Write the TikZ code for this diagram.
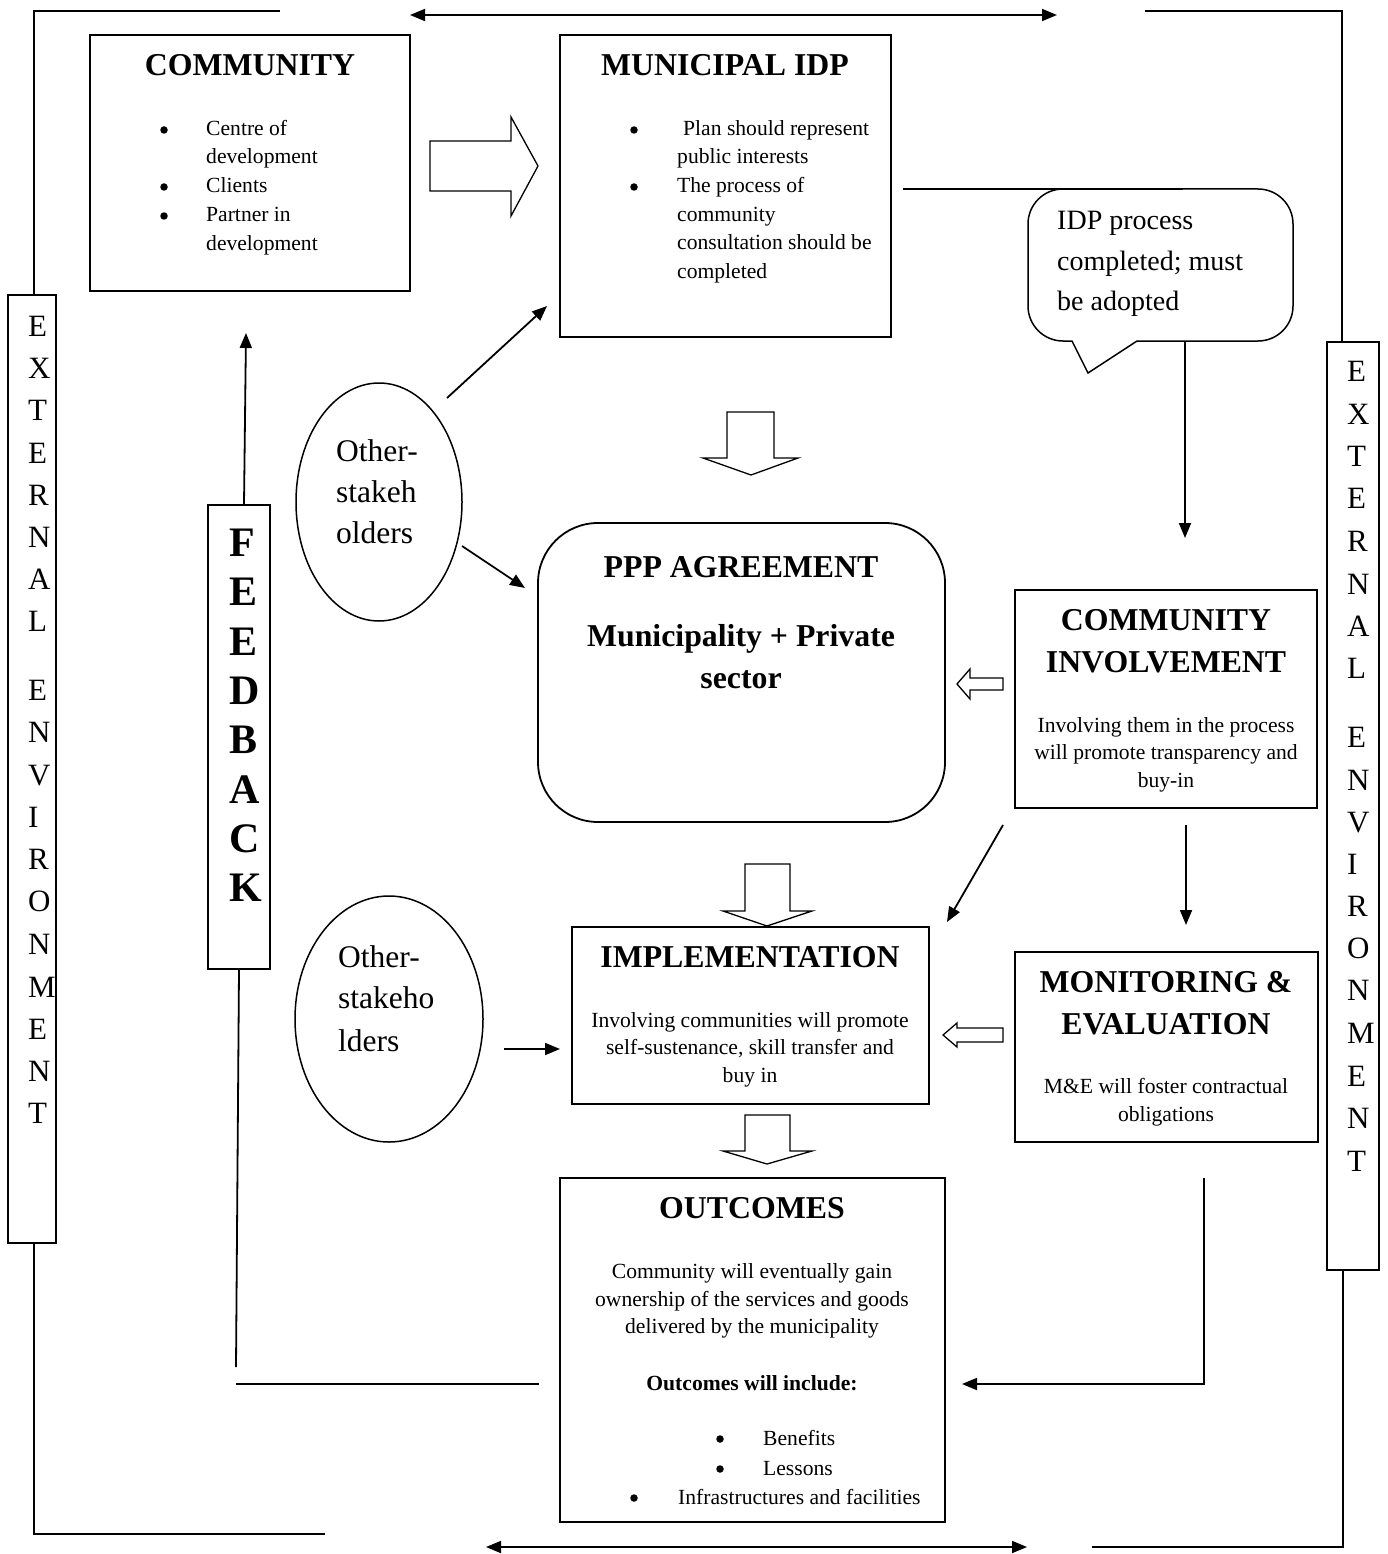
\documentclass[tikz,border=0pt]{standalone}
\usepackage{fontspec}
\setmainfont{Liberation Serif}
\usetikzlibrary{arrows.meta,shapes.geometric,calc}
\tikzset{
 box/.style={draw, line width=1.8pt, inner sep=0pt},
 hdr/.style={font=\bfseries\fontsize{31.8}{40}\selectfont, anchor=base, inner sep=0pt},
 txt/.style={font=\fontsize{21.6}{28}\selectfont, anchor=base, inner sep=0pt},
 txtl/.style={txt, anchor=base west},
 btxt/.style={font=\bfseries\fontsize{21.6}{28}\selectfont, anchor=base, inner sep=0pt},
 bigl/.style={font=\fontsize{28}{40}\selectfont, anchor=base west, inner sep=0pt},
 oth/.style={font=\fontsize{31.5}{42}\selectfont, anchor=base west, inner sep=0pt},
 extl/.style={font=\fontsize{31}{42}\selectfont, anchor=base west, inner sep=0pt},
 fbl/.style={font=\bfseries\fontsize{42}{49}\selectfont, anchor=base west, inner sep=0pt},
 bdot/.style={circle, fill, inner sep=0pt, minimum size=7.5pt},
 conn/.style={line width=1.8pt},
 arr/.style={conn, -{Triangle[length=15pt,width=12pt]}},
 darr/.style={conn, {Triangle[length=15pt,width=12pt]}-{Triangle[length=15pt,width=12pt]}},
 blk/.style={draw, line width=1.3pt, fill=white, line join=miter},
 oval/.style={draw, ellipse, line width=1.5pt, inner sep=0pt},
}
\begin{document}
\begin{tikzpicture}[x=1pt,y=-1pt]
\useasboundingbox (0,0) rectangle (1387,1554);

% ---------- boxes ----------
\node[box, minimum width=320pt, minimum height=256pt] (comm) at (250,163) {};
\node[box, minimum width=331pt, minimum height=302pt] (idp) at (725.5,186) {};
\node[box, rounded corners=60pt, minimum width=407pt, minimum height=299pt] (ppp) at (741.5,672.5) {};
\node[box, minimum width=302pt, minimum height=218pt] (ci) at (1166,699) {};
\node[box, minimum width=357pt, minimum height=177pt] (impl) at (750.5,1015.5) {};
\node[box, minimum width=303pt, minimum height=190pt] (me) at (1166.5,1047) {};
\node[box, minimum width=385pt, minimum height=344pt] (out) at (752.5,1350) {};
\node[box, line width=1.5pt, minimum width=62pt, minimum height=464pt] (fb) at (239,737) {};
\node[box, line width=1.5pt, minimum width=48pt, minimum height=948pt] (extL) at (32,769) {};
\node[box, line width=1.5pt, minimum width=52pt, minimum height=928pt] (extR) at (1353,806) {};
\node[oval, minimum width=166pt, minimum height=238pt] (oth1) at (379,502) {};
\node[oval, minimum width=188pt, minimum height=246pt] (oth2) at (389,1019) {};

% callout
\draw[line width=1.5pt] (1088,373) -- (1072,341) [rounded corners=35pt] -- (1028,341) -- (1028,189) -- (1293,189) -- (1293,341) [sharp corners] -- (1137,341) -- cycle;
\node[bigl] (cal1) at (1057,230) {IDP process};
\node[bigl] (cal2) at (1057,270) {completed; must};
\node[bigl] (cal3) at (1057,310) {be adopted};

% ---------- texts ----------
\node[hdr] (commT) at (250,76) {COMMUNITY};
\node[bdot] (cb1) at (164,130) {};
\node[bdot] (cb2) at (164,187) {};
\node[bdot] (cb3) at (164,216) {};
\node[txtl] (ct1) at (206,136) {Centre of};
\node[txtl] (ct2) at (206,164) {development};
\node[txtl] (ct3) at (206,193) {Clients};
\node[txtl] (ct4) at (206,222) {Partner in};
\node[txtl] (ct5) at (206,251) {development};

\node[hdr] (idpT) at (725,76) {MUNICIPAL IDP};
\node[bdot] (ib1) at (634,130) {};
\node[bdot] (ib2) at (634,187) {};
\node[txtl] (it1) at (683,136) {Plan should represent};
\node[txtl] (it2) at (677,164) {public interests};
\node[txtl] (it3) at (677,193) {The process of};
\node[txtl] (it4) at (677,222) {community};
\node[txtl] (it5) at (677,250) {consultation should be};
\node[txtl] (it6) at (677,278) {completed};

\node[hdr] (pppT1) at (741,577) {PPP AGREEMENT};
\node[hdr] (pppT2) at (741,646) {Municipality + Private};
\node[hdr] (pppT3) at (741,688) {sector};

\node[hdr] (ciT1) at (1166,630) {COMMUNITY};
\node[hdr] (ciT2) at (1166,672) {INVOLVEMENT};
\node[txt] (ci1) at (1166,732) {Involving them in the process};
\node[txt] (ci2) at (1166,759) {will promote transparency and};
\node[txt] (ci3) at (1166,787) {buy-in};

\node[hdr] (implT) at (750,967) {IMPLEMENTATION};
\node[txt] (im1) at (750,1027) {Involving communities will promote};
\node[txt] (im2) at (750,1054) {self-sustenance, skill transfer and};
\node[txt] (im3) at (750,1082) {buy in};

\node[hdr] (meT1) at (1166,992) {MONITORING \&};
\node[hdr] (meT2) at (1166,1034) {EVALUATION};
\node[txt] (me1) at (1166,1093) {M\&E will foster contractual};
\node[txt] (me2) at (1166,1121) {obligations};

\node[hdr] (outT) at (752,1218) {OUTCOMES};
\node[txt] (o1) at (752,1278) {Community will eventually gain};
\node[txt] (o2) at (752,1306) {ownership of the services and goods};
\node[txt] (o3) at (752,1333) {delivered by the municipality};
\node[btxt] (o4) at (752,1390) {Outcomes will include:};
\node[bdot] (ob1) at (720,1439) {};
\node[bdot] (ob2) at (720,1469) {};
\node[bdot] (ob3) at (634,1498) {};
\node[txtl] (ot1) at (763,1445) {Benefits};
\node[txtl] (ot2) at (763,1475) {Lessons};
\node[txtl] (ot3) at (678,1504) {Infrastructures and facilities};

\node[oth] (s11) at (336,461) {Other-};
\node[oth] (s12) at (336,502) {stakeh};
\node[oth] (s13) at (336,543) {olders};
\node[oth] (s21) at (338,967) {Other-};
\node[oth] (s22) at (338,1008) {stakeho};
\node[oth] (s23) at (338,1051) {lders};

\foreach \l/\yy [count=\i] in {F/556,E/605,E/655,D/704,B/753,A/803,C/852,K/901}
  \node[fbl] (fbl\i) at (229,\yy) {\l};

\foreach \l/\yy [count=\i] in {E/336,X/378,T/420,E/463,R/505,N/547,A/589,L/631,E/700,N/742,V/785,I/827,R/869,O/911,N/954,M/997,E/1039,N/1081,T/1123}
  \node[extl] (exl\i) at (28,\yy) {\l};
\foreach \l/\yy [count=\i] in {E/381,X/424,T/466,E/508,R/551,N/594,A/636,L/678,E/747,N/790,V/832,I/874,R/916,O/958,N/1000,M/1043,E/1086,N/1128,T/1171}
  \node[extl] (exr\i) at (1347,\yy) {\l};

% ---------- block arrows ----------
\path[blk] (430,141) -- (511,141) -- (511,117) -- (538,166) -- (511,216) -- (511,191) -- (430,191) -- cycle;
\path[blk] (727,412) -- (774,412) -- (774,458) -- (798,458) -- (751,475) -- (703,458) -- (727,458) -- cycle;
\path[blk] (745,864) -- (790,864) -- (790,911) -- (812,911) -- (767,926) -- (723,911) -- (745,911) -- cycle;
\path[blk] (745,1115) -- (790,1115) -- (790,1151) -- (812,1151) -- (767,1164) -- (723,1151) -- (745,1151) -- cycle;
\path[blk] (1003,678) -- (970,678) -- (970,669) -- (957,684) -- (970,699) -- (970,690) -- (1003,690) -- cycle;
\path[blk] (1003,1028) -- (957,1028) -- (957,1023) -- (943,1035) -- (957,1047) -- (957,1042) -- (1003,1042) -- cycle;

% ---------- coordinates for free ends ----------
\coordinate (tl1) at (34,11);
\coordinate (tl2) at (280,11);
\coordinate (ta1) at (410,15);
\coordinate (ta2) at (1057,15);
\coordinate (tr1) at (1145,11);
\coordinate (tr2) at (1342,11);
\coordinate (bl1) at (34,1534);
\coordinate (bl2) at (325,1534);
\coordinate (br1) at (1343,1547);
\coordinate (br2) at (1092,1547);
\coordinate (ba1) at (486,1547);
\coordinate (ba2) at (1027,1547);
\coordinate (fbUp) at (246,333);
\coordinate (fbDn) at (236,1367);
\coordinate (hl1) at (236,1384);
\coordinate (hl2) at (539,1384);
\coordinate (rv1) at (1204,1178);
\coordinate (rv2) at (1204,1384);
\coordinate (rv3) at (962,1384);
\coordinate (ic1) at (903,189);
\coordinate (ic2) at (1183,189);
\coordinate (cd1) at (1185,341);
\coordinate (cd2) at (1185,538);
\coordinate (cm1) at (1186,825);
\coordinate (cm2) at (1186,925);
\coordinate (dg1) at (1003,825);
\coordinate (dg2) at (947,922);
\coordinate (e1a) at (447,398);
\coordinate (e1b) at (547,306);
\coordinate (e1c) at (462,546);
\coordinate (e1d) at (525,588);
\coordinate (e2a) at (504,1049);
\coordinate (e2b) at (560,1049);

% ---------- connectors ----------
\draw[conn] (extL.north -| tl1) -- (tl1) -- (tl2);
\draw[darr] (ta1) -- (ta2);
\draw[conn] (tr1) -- (tr2) -- (extR.north -| tr2);
\draw[conn] (extL.south -| bl1) -- (bl1) -- (bl2);
\draw[conn] (extR.south -| br1) -- (br1) -- (br2);
\draw[darr] (ba1) -- (ba2);
\draw[arr] (fb.north) ++(5pt,0) -- (fbUp);
\draw[conn] (fb.south) -- (fbDn);
\draw[conn] (hl1) -- (hl2);
\draw[arr] (rv1) -- (rv2) -- (rv3);
\draw[conn] (ic1) -- (ic2);
\draw[arr] (cd1) -- (cd2);
\draw[arr] (cm1) -- (cm2);
\draw[arr] (dg1) -- (dg2);
\draw[arr] (e1a) -- (e1b);
\draw[arr] (e1c) -- (e1d);
\draw[arr] (e2a) -- (e2b);
\end{tikzpicture}
\end{document}
